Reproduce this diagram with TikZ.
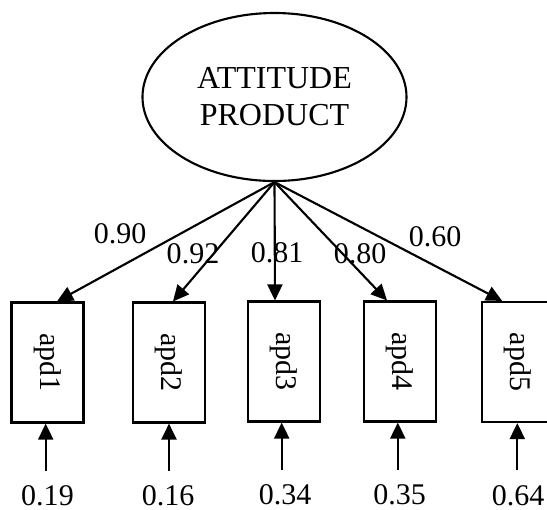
\documentclass[tikz,border=0pt]{standalone}
\usepackage{fontspec}
\setmainfont{Liberation Serif}
\usepackage{graphicx}
\usetikzlibrary{shapes}
\usetikzlibrary{arrows.meta}

\tikzset{
	latent/.style={draw=black, ellipse, line width=0.85pt, minimum width=105.6pt, minimum height=67.2pt, align=center, inner sep=0pt},
	manifest/.style={draw=black, rectangle, line width=0.85pt, minimum width=28.8pt, minimum height=48pt, inner sep=0pt},
	loading/.style={line width=0.85pt, -{Triangle[length=6.4pt,width=6pt]}},
	coef/.style={inner sep=0pt}
}

\begin{document}
\begin{tikzpicture}[x=0.4pt, y=-0.4pt, font=\fontsize{12}{14.6}\selectfont]
		\clip (0,0) rectangle (547,509);
		% latent factor
		\node[latent, font=\fontsize{12.8}{14.8}\selectfont] (att) at (274.5,97) {ATTITUDE\\PRODUCT};
		% indicators
		\node[manifest] (m1) at (47.5,362.5) {\rotatebox{-90}{apd1}};
		\node[manifest] (m2) at (169,362.5) {\rotatebox{-90}{apd2}};
		\node[manifest] (m3) at (284,361.5) {\rotatebox{-90}{apd3}};
		\node[manifest] (m4) at (400,361.5) {\rotatebox{-90}{apd4}};
		\node[manifest] (m5) at (517.7,362) {\rotatebox{-90}{apd5}};
		% loadings
		\draw[loading] (att.south) -- ([xshift=3.8pt]m1.north);
		\draw[loading] (att.south) -- ([xshift=1.6pt]m2.north);
		\draw[loading] (att.south) -- ([xshift=-3.6pt]m3.north);
		\draw[loading] (att.south) -- ([xshift=-5.2pt]m4.north);
		\draw[loading] (att.south) -- ([xshift=-6.2pt]m5.north);
		\node[coef] (l1) at (120,234) {0.90};
		\node[coef] (l2) at (193,254) {0.92};
		\node[coef] (l3) at (277,253) {0.81};
		\node[coef] (l4) at (360,254) {0.80};
		\node[coef] (l5) at (435,237) {0.60};
		% error terms
		\coordinate (e1) at (45.7,471);
		\coordinate (e2) at (169,471);
		\coordinate (e3) at (281.7,470);
		\coordinate (e4) at (397.8,470);
		\coordinate (e5) at (517.3,470);
		\draw[loading] (e1) -- (e1 |- m1.south);
		\draw[loading] (e2) -- (e2 |- m2.south);
		\draw[loading] (e3) -- (e3 |- m3.south);
		\draw[loading] (e4) -- (e4 |- m4.south);
		\draw[loading] (e5) -- (e5 |- m5.south);
		\node[coef] (r1) at (47.5,496) {0.19};
		\node[coef] (r2) at (168,496) {0.16};
		\node[coef] (r3) at (285,494.5) {0.34};
		\node[coef] (r4) at (399.5,494.5) {0.35};
		\node[coef] (r5) at (518,495.5) {0.64};
\end{tikzpicture}
\end{document}
